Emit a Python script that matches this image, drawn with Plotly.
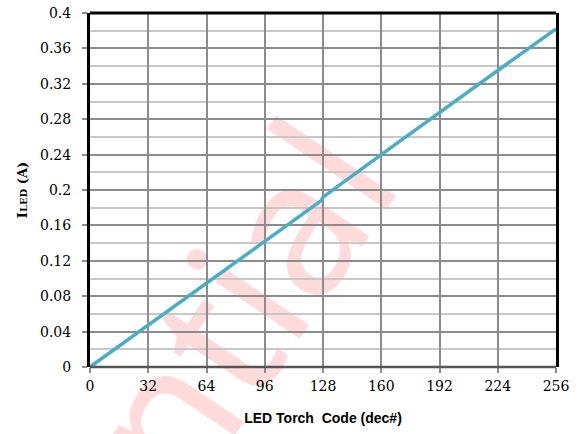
import plotly.graph_objects as go

# LED torch code vs LED current
code = [0, 32, 64, 96, 127, 128, 160, 192, 224, 256]
i_led = [0, 0.047, 0.095, 0.142, 0.188, 0.192, 0.240, 0.288, 0.335, 0.382]

x_ticks = [0, 32, 64, 96, 128, 160, 192, 224, 256]
y_ticks = [0, 0.04, 0.08, 0.12, 0.16, 0.2, 0.24, 0.28, 0.32, 0.36, 0.4]
y_labels = ["0", "0.04", "0.08", "0.12", "0.16", "0.2", "0.24", "0.28", "0.32", "0.36", "0.4"]

fig = go.Figure()
fig.add_trace(go.Scatter(x=code, y=i_led, mode="lines",
                         line=dict(color="#4bacc6", width=3.5), showlegend=False))

tickfont = dict(family="DejaVu Serif", size=14, color="black")

fig.update_xaxes(range=[0, 256], tickvals=x_ticks, ticktext=[str(v) for v in x_ticks],
                 showgrid=True, gridcolor="#8c8c8c", gridwidth=2,
                 ticks="outside", ticklen=5, tickcolor="#8c8c8c", tickwidth=1.5,
                 ticklabelstandoff=1,
                 showline=False, zeroline=False, tickfont=tickfont, automargin=False,
                 title=dict(text="<b>LED Torch  Code (dec#)</b>",
                            font=dict(family="Liberation Sans", size=14, color="black"),
                            standoff=20))
fig.update_yaxes(range=[0, 0.4], tickvals=y_ticks, ticktext=y_labels,
                 showgrid=True, gridcolor="#8c8c8c", gridwidth=2,
                 minor=dict(dtick=0.02, showgrid=True, gridcolor="#c8c8c8", gridwidth=2),
                 ticks="outside", ticklen=5, tickcolor="#8c8c8c", tickwidth=1.5,
                 ticklabelstandoff=8,
                 showline=True, linecolor="black", linewidth=3, mirror=True,
                 zeroline=False, tickfont=tickfont, automargin=False,
                 title=dict(text="<b>I<span style='font-size:10px'>LED</span> (A)</b>",
                            font=dict(family="DejaVu Serif", size=13, color="black"),
                            standoff=10))

# top border black, bottom border dark gray
fig.add_shape(type="line", xref="x domain", yref="y domain", x0=0, x1=1, y0=1, y1=1,
              line=dict(color="black", width=3))
fig.add_shape(type="line", xref="x domain", yref="y domain", x0=0, x1=1, y0=0, y1=0,
              line=dict(color="#555555", width=2.5))

# watermark
fig.add_shape(type="rect", xref="paper", yref="paper", x0=-0.48, x1=0.32, y0=-1.25, y1=-0.05,
              line=dict(width=0), fillcolor="rgba(0,0,0,0)", layer="below",
              label=dict(text="Confidential", textangle=-56, textposition="middle center",
                         font=dict(family="Noto Sans", size=190,
                                   color="rgba(255,0,0,0.14)")))

fig.update_layout(width=583, height=434, margin=dict(l=90, r=27, t=13, b=67),
                  plot_bgcolor="white", paper_bgcolor="white")

fig.write_html("out.html", config={"displayModeBar": False},
               post_script="document.body.style.margin='0';")
